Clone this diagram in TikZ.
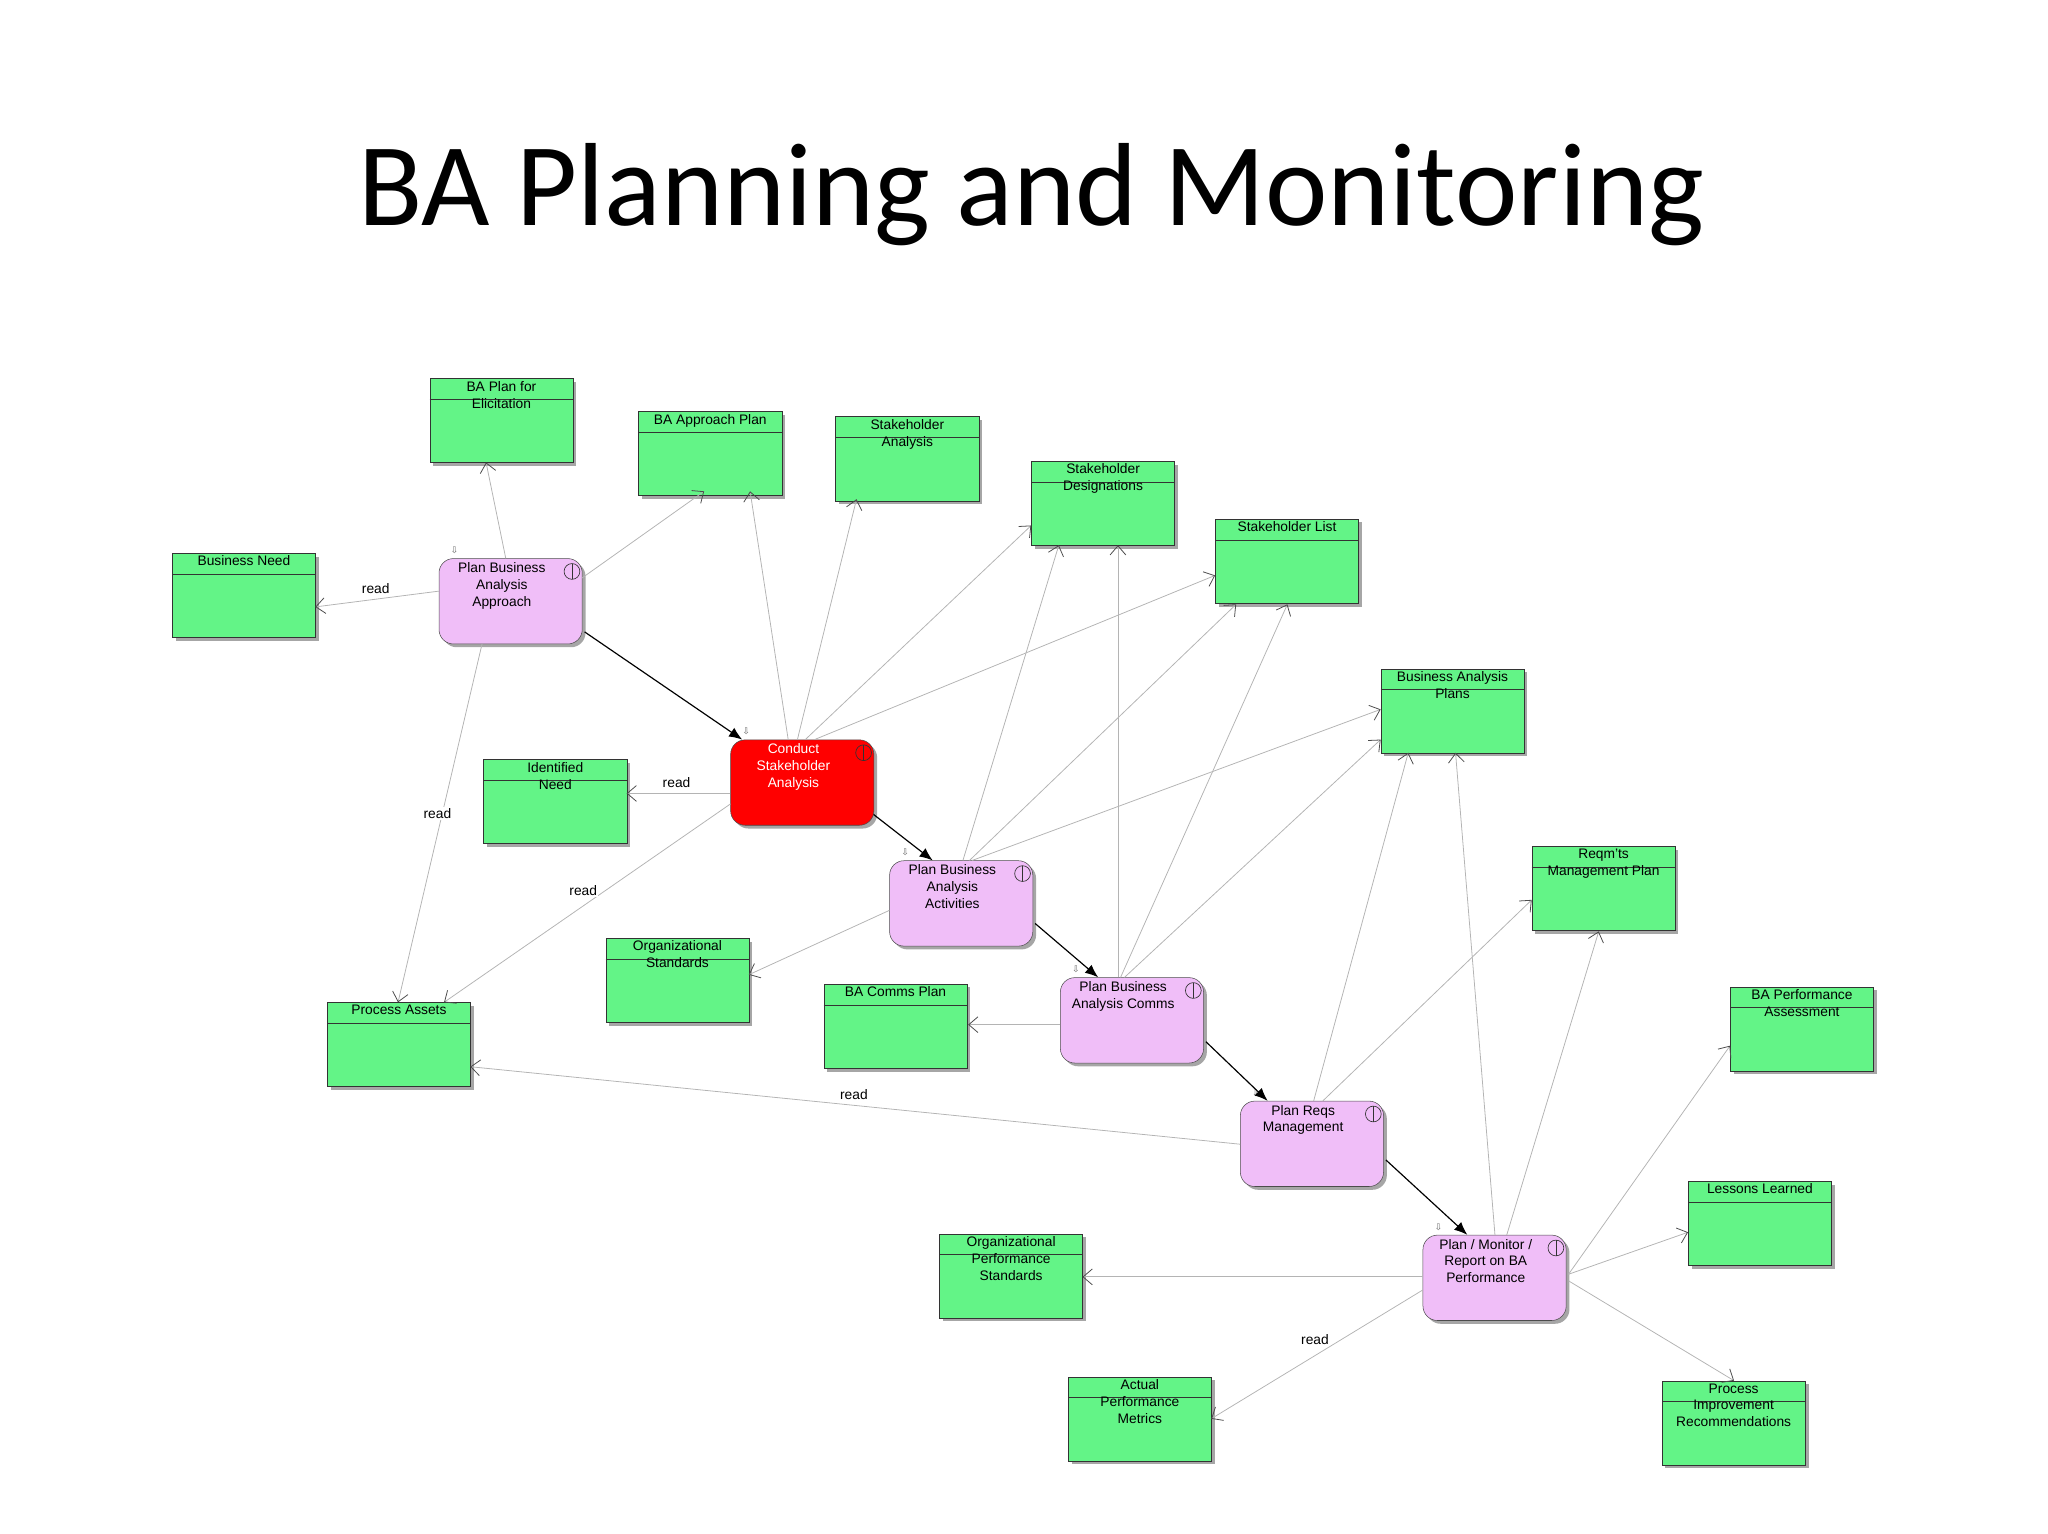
\documentclass[tikz,border=0pt]{standalone}
\usepackage{fontspec}
\setmainfont{Liberation Sans}
\newfontfamily\titlefont{Carlito}
\newfontfamily\symfont{DejaVu Sans}
\usetikzlibrary{arrows.meta,calc,shadows}
\definecolor{gfill}{HTML}{63F487}
\definecolor{pfill}{HTML}{F0BEF8}
\definecolor{rfill}{HTML}{FF0000}
\definecolor{edgec}{HTML}{B4B4B4}
\tikzset{
 gbox/.style={draw=black!80,fill=gfill,minimum width=109pt,minimum height=64pt,inner sep=0pt,anchor=north west,
   drop shadow={shadow xshift=2.5pt,shadow yshift=-2.5pt,fill=black!35,opacity=1}},
 pbox/.style={draw=black!70,fill=pfill,rounded corners=11pt,minimum width=109pt,minimum height=65pt,inner sep=0pt,anchor=north west,
   drop shadow={shadow xshift=2.5pt,shadow yshift=-2.5pt,fill=black!35,opacity=1}},
 rbox/.style={pbox,fill=rfill},
 lbl/.style={font=\fontsize{10.5}{12.8}\selectfont,align=center,inner sep=0pt,anchor=north},
 edge/.style={draw=edgec,line width=0.6pt,-{Straight Barb[length=7pt,width=12pt,line width=0.6pt]},arrows={[color=black!70]}},
 flow/.style={draw=black,line width=0.9pt,-{Latex[length=10pt,width=8pt]}},
 rd/.style={font=\fontsize{10.5}{12}\selectfont,inner sep=1pt,fill=white},
}
\newcommand{\gb}[4]{\node[gbox] (#1) at (#2,#3) {};
 \draw[black!80,line width=0.5pt] ($(#1.north west)+(0,16)$) -- ($(#1.north east)+(0,16)$);
 \node[lbl] at ($(#1.north)+(0,2)$) {#4};}
\newcommand{\pb}[5][pbox]{\node[#1] (#2) at (#3,#4) {};
 \node[lbl,#1text] at ($(#2.north west)+(48,3)$) {#5};
 \draw[black!80,line width=0.5pt] ($(#2.north east)+(-8,10)$) circle (6);
 \draw[black!80,line width=0.5pt] ($(#2.north east)+(-8,4)$) -- ++(0,12);
 \node[font=\symfont\fontsize{7}{7}\selectfont,text=black!60] at ($(#2.north west)+(12,-6)$) {⇩};}
\tikzset{pboxtext/.style={},rboxtext/.style={text=white}}
\newcommand{\E}[4]{\draw[edge] ($(#1.north west)+#2$) -- ($(#3.north west)+#4$);}
\newcommand{\F}[4]{\draw[flow] ($(#1.north west)+#2$) -- ($(#3.north west)+#4$);}
\begin{document}
\begin{tikzpicture}[x=1pt,y=-1pt]
\useasboundingbox (0,0) rectangle (1559,1167);
\node[font=\titlefont\fontsize{90}{90}\selectfont] (title) at (785,148) {BA Planning and Monitoring};
\gb{elic}{327}{288}{BA Plan for\\Elicitation}
\gb{appr}{486}{313}{BA Approach Plan}
\gb{sha}{636}{317}{Stakeholder\\Analysis}
\gb{shd}{785}{351}{Stakeholder\\Designations}
\gb{shl}{925}{395}{Stakeholder List}
\gb{bneed}{131}{421}{Business Need}
\gb{idn}{368}{578}{Identified\\Need}
\gb{bap}{1051}{509}{Business Analysis\\Plans}
\gb{rmp}{1166}{644}{Reqm'ts\\Management Plan}
\gb{orgs}{461}{714}{Organizational\\Standards}
\gb{bcp}{627}{749}{BA Comms Plan}
\gb{pa}{249}{763}{Process Assets}
\gb{bpa}{1317}{751}{BA Performance\\Assessment}
\gb{ll}{1285}{899}{Lessons Learned}
\gb{ops}{715}{939}{Organizational\\Performance\\Standards}
\gb{apm}{813}{1048}{Actual\\Performance\\Metrics}
\gb{pir}{1265}{1051}{Process\\Improvement\\Recommendations}
\pb{pbaa}{334}{425}{Plan Business\\Analysis\\Approach}
\pb[rbox]{csa}{556}{563}{Conduct\\Stakeholder\\Analysis}
\pb{act}{677}{655}{Plan Business\\Analysis\\Activities}
\pb{pbac}{807}{744}{Plan Business\\Analysis Comms}
\pb{prm}{944}{838}{Plan Reqs\\Management}
\pb{pmr}{1083}{940}{Plan / Monitor /\\Report on BA\\Performance}
\E{pbaa}{(51,0)}{elic}{(43,64)}
\E{pbaa}{(109,15)}{appr}{(50,61)}
\E{pbaa}{(0,25)}{bneed}{(109,41)}
\E{pbaa}{(33,65)}{pa}{(54,0)}
\F{pbaa}{(111,56)}{csa}{(9,0)}
\E{csa}{(44,0)}{appr}{(85,61)}
\E{csa}{(51,0)}{sha}{(16,63)}
\E{csa}{(57,0)}{shd}{(0,49)}
\E{csa}{(64,0)}{shl}{(0,43)}
\E{csa}{(0,41)}{idn}{(109,26)}
\E{csa}{(0,49)}{pa}{(89,0)}
\F{csa}{(109,57)}{act}{(33,0)}
\E{act}{(56,0)}{shd}{(21,64)}
\E{act}{(61,0)}{shl}{(16,65)}
\E{act}{(63,0)}{bap}{(0,31)}
\E{act}{(0,38)}{orgs}{(109,28)}
\F{act}{(111,48)}{pbac}{(29,0)}
\E{pbac}{(44,0)}{shd}{(66,64)}
\E{pbac}{(46,0)}{shl}{(55,65)}
\E{pbac}{(49,0)}{bap}{(0,54)}
\E{pbac}{(0,36)}{bcp}{(110,31)}
\F{pbac}{(111,49)}{prm}{(21,0)}
\E{prm}{(56,0)}{bap}{(21,64)}
\E{prm}{(63,0)}{rmp}{(0,41)}
\E{prm}{(0,33)}{pa}{(109,49)}
\F{prm}{(111,45)}{pmr}{(34,0)}
\E{pmr}{(55,0)}{bap}{(57,64)}
\E{pmr}{(64,0)}{rmp}{(51,65)}
\E{pmr}{(111,30)}{bpa}{(0,45)}
\E{pmr}{(111,30)}{ll}{(0,39)}
\E{pmr}{(111,35)}{pir}{(55,0)}
\E{pmr}{(0,32)}{ops}{(109,33)}
\E{pmr}{(0,42)}{apm}{(109,32)}
\node[rd] (r1) at (286,448) {read};
\node[rd] (r2) at (333,619) {read};
\node[rd] (r3) at (515,596) {read};
\node[rd] (r4) at (444,678) {read};
\node[rd] (r5) at (650,833) {read};
\node[rd] (r6) at (1001,1020) {read};
\end{tikzpicture}
\end{document}
